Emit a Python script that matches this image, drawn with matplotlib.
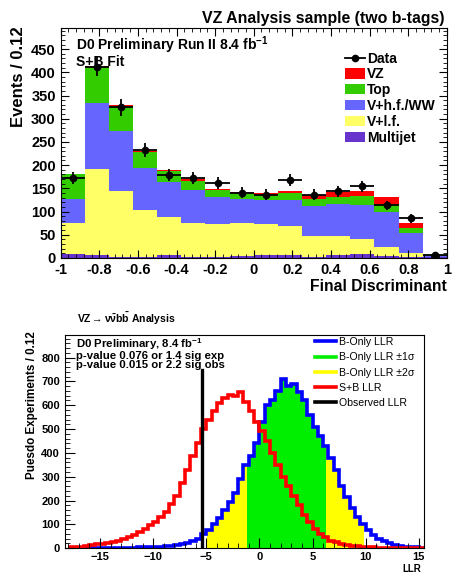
import numpy as np
import matplotlib
matplotlib.use('Agg')
import matplotlib.pyplot as plt
from matplotlib.lines import Line2D
from matplotlib.patches import Patch
from matplotlib.ticker import MultipleLocator, FuncFormatter

plt.rcParams['font.family'] = ['Liberation Sans', 'DejaVu Sans']
plt.rcParams['mathtext.fontset'] = 'custom'
plt.rcParams['mathtext.rm'] = 'Liberation Sans'
plt.rcParams['mathtext.bf'] = 'Liberation Sans:bold'
plt.rcParams['mathtext.it'] = 'Liberation Sans:italic'

# ---------------- top panel data ----------------
disc_edges = np.linspace(-1, 1, 17)
multijet = [9, 6, 2, 2, 6, 3, 3, 5, 7, 6, 1, 6, 9, 4, 3, 1]
v_lf = [67, 186, 143, 101, 83, 73, 71, 71, 67, 62, 47, 41, 31, 20, 8, 1]
v_hf = [51, 141, 128, 91, 74, 71, 58, 51, 51, 57, 63, 69, 74, 74, 43, 3]
top = [53, 79, 55, 35, 24, 19, 15, 13, 11, 15, 16, 16, 20, 19, 10, 1]
vz = [1, 2, 2, 2, 2, 4, 2, 3, 4, 4, 8, 10, 11, 15, 12, 1]
data = [172, 412, 325, 232, 179, 172, 162, 141, 136, 168, 136, 144, 154, 113, 85, 7]

comp_names = ['Multijet', 'V+l.f.', 'V+h.f./WW', 'Top', 'VZ']
comp_vals = [multijet, v_lf, v_hf, top, vz]
comp_cols = ['#6633cc', '#ffff66', '#6666ff', '#33cc00', '#ff0000']

# ---------------- bottom panel data ----------------
llr_edges = np.arange(-18.0, 15.51, 0.5)
sb_llr = [3, 5, 6, 9, 12, 16, 19, 22, 26, 31, 37, 45, 55, 66, 80, 96, 110, 132,
          152, 185, 220, 275, 330, 385, 440, 500, 540, 575, 610, 630, 645, 638,
          655, 615, 575, 530, 490, 450, 400, 350, 300, 260, 220, 180, 140, 110,
          80, 60, 45, 32, 24, 18, 14, 10, 7, 5, 4, 3, 2, 1, 1, 0, 0, 0, 0, 0, 0]
b_llr = [0, 0, 0, 0, 1, 1, 1, 1, 1, 1, 1, 2, 2, 3, 3, 4, 5, 6, 8, 10, 13, 17,
         22, 30, 40, 60, 78, 100, 125, 160, 195, 230, 290, 350, 385, 440, 530,
         600, 620, 660, 710, 680, 690, 655, 620, 560, 510, 470, 430, 380, 330,
         260, 215, 170, 130, 100, 75, 55, 40, 28, 20, 13, 9, 6, 4, 3, 2]
band1 = (-1.2, 6.3)
band2 = (-4.9, 9.8)
obs_llr = -5.4
obs_top = 750

fig = plt.figure(figsize=(4.56, 5.77), dpi=100)

# ================= TOP =================
ax1 = fig.add_axes([0.133, 0.553, 0.847, 0.398])
cum = np.zeros(len(data))
for name, vals, col in zip(comp_names, comp_vals, comp_cols):
    new = cum + np.array(vals)
    ax1.stairs(new, disc_edges, baseline=cum.copy(), fill=True, color=col, lw=0)
    cum = new
centers = 0.5 * (disc_edges[1:] + disc_edges[:-1])
ax1.errorbar(centers, data, xerr=0.0625, yerr=np.sqrt(data), fmt='o', color='black',
             ms=4.5, lw=1.3, capsize=0, zorder=5)
ax1.set_xlim(-1, 1)
ax1.set_ylim(0, 495)
ax1.xaxis.set_major_locator(MultipleLocator(0.2))
ax1.xaxis.set_minor_locator(MultipleLocator(0.04))
ax1.yaxis.set_major_locator(MultipleLocator(50))
ax1.yaxis.set_minor_locator(MultipleLocator(10))
ax1.xaxis.set_major_formatter(FuncFormatter(lambda v, p: ('%g' % round(v, 2)) if abs(v) > 1e-9 else '0'))
ax1.tick_params(which='both', direction='in', top=True, right=True, labelsize=10.5)
ax1.tick_params(which='major', length=6)
ax1.tick_params(which='minor', length=3)
for lab in ax1.get_xticklabels() + ax1.get_yticklabels():
    lab.set_fontweight('bold')
ax1.set_ylabel('Events / 0.12', fontsize=12, fontweight='bold')
ax1.yaxis.set_label_coords(-0.09, 0.79)
ax1.set_xlabel('Final Discriminant', fontsize=11.3, fontweight='bold')
ax1.xaxis.set_label_coords(1.0, -0.09)
ax1.xaxis.label.set_ha('right')
fig.text(0.975, 0.968, 'VZ Analysis sample (two b-tags)', ha='right', va='center',
         fontsize=11.4, fontweight='bold')
ax1.text(0.04, 0.928, r'D0 Preliminary Run II 8.4 fb$^{\mathbf{-1}}$', transform=ax1.transAxes,
         fontsize=10, fontweight='bold', va='center')
ax1.text(0.04, 0.855, 'S+B Fit', transform=ax1.transAxes,
         fontsize=10, fontweight='bold', va='center')
handles = [Line2D([], [], color='black', marker='o', ms=4.5, lw=1.3)]
labels = ['Data']
for name, col in zip(comp_names[::-1], comp_cols[::-1]):
    handles.append(Patch(facecolor=col, edgecolor='none'))
    labels.append(name)
leg1 = ax1.legend(handles, labels, loc='upper left', bbox_to_anchor=(0.715, 0.935),
                  frameon=False, prop={'weight': 'bold', 'size': 10},
                  handlelength=1.4, handleheight=0.75, labelspacing=0.13,
                  handletextpad=0.2, borderpad=0.1)

# ================= BOTTOM =================
ax2 = fig.add_axes([0.1425, 0.05, 0.7875, 0.3694])
b_arr = np.array(b_llr, dtype=float)
for (lo, hi), col in [(band2, '#ffff00'), (band1, '#00ee00')]:
    ax2.stairs(b_arr, np.clip(llr_edges, lo, hi), baseline=0, fill=True, color=col, lw=0)
ax2.stairs(b_arr, llr_edges, color='#0000ff', lw=2.6, baseline=None)
ax2.stairs(np.array(sb_llr, float), llr_edges, color='#ff0000', lw=2.6, baseline=None)
ax2.plot([obs_llr, obs_llr], [0, obs_top], color='black', lw=2.4)
ax2.set_xlim(-18.3, 15.5)
ax2.set_ylim(0, 895)
ax2.xaxis.set_major_locator(MultipleLocator(5))
ax2.xaxis.set_minor_locator(MultipleLocator(1))
ax2.yaxis.set_major_locator(MultipleLocator(100))
ax2.yaxis.set_minor_locator(MultipleLocator(20))
ax2.tick_params(which='both', direction='in', labelsize=8)
ax2.tick_params(axis='x', pad=2.5)
ax2.tick_params(which='major', length=7)
ax2.tick_params(which='minor', length=3.5)
for lab in ax2.get_xticklabels() + ax2.get_yticklabels():
    lab.set_fontweight('bold')
ax2.set_ylabel('Puesdo Experiments / 0.12', fontsize=8.4, fontweight='bold')
ax2.yaxis.set_label_coords(-0.075, 0.67)
ax2.set_xlabel('LLR', fontsize=7, fontweight='bold')
ax2.xaxis.set_label_coords(0.965, -0.075)
fig.text(0.168, 0.448, r'VZ$\rightarrow\mathbf{ν\bar{ν}b\bar{b}}$ Analysis',
         fontsize=7.5, fontweight='bold', va='center')
ax2.text(0.03, 0.995,
         'D0 Preliminary, 8.4 fb$^{\\mathbf{-1}}$\np-value 0.076 or 1.4 sig exp\np-value 0.015 or 2.2 sig obs',
         transform=ax2.transAxes, fontsize=8.2, fontweight='bold', va='top', linespacing=0.88)
h2 = [Line2D([], [], color=c, lw=2.6) for c in ['#0000ff', '#00ee00', '#ffff00', '#ff0000', 'black']]
l2 = ['B-Only LLR', 'B-Only LLR \u00b11\u03c3', 'B-Only LLR \u00b12\u03c3', 'S+B LLR', 'Observed LLR']
ax2.legend(h2, l2, loc='upper left', bbox_to_anchor=(0.675, 1.025), frameon=False,
           fontsize=7.6, handlelength=2.0, handletextpad=0.3, labelspacing=0.5, borderpad=0.2)

fig.savefig('out.png', dpi=100)
